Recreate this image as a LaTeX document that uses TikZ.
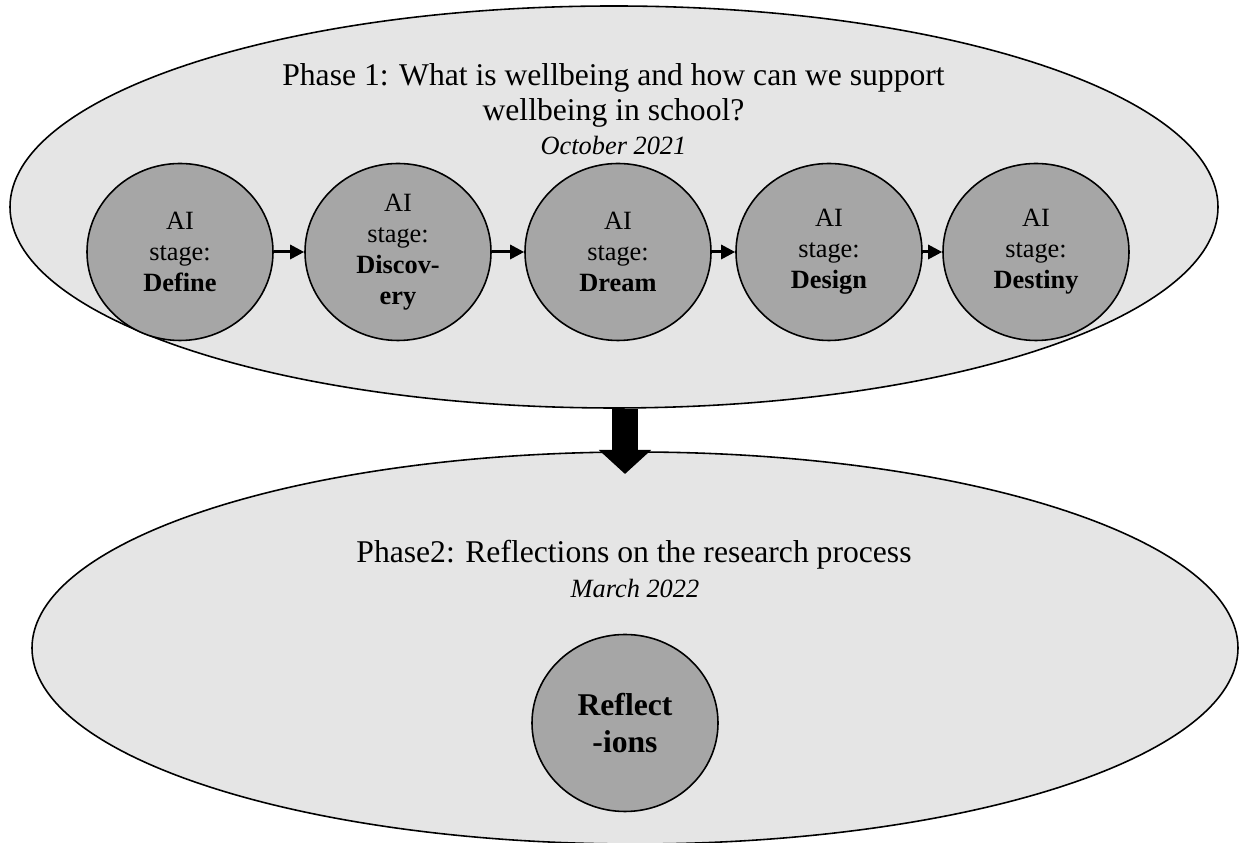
\documentclass[tikz,border=0pt]{standalone}
\usepackage{fontspec}
\setmainfont{Liberation Serif}
\usepackage{tikz}
\usetikzlibrary{shapes,arrows,positioning,arrows.meta}

\tikzset{
    phase/.style={ellipse, draw, line width=0.9pt, fill=black!10, inner sep=0pt},
    aistage/.style={ellipse, draw, line width=0.9pt, fill=black!35, inner sep=0pt,
        minimum width=3.72cm, minimum height=3.54cm, align=center,
        font=\fontsize{15}{17.6}\selectfont},
    stagearrow/.style={line width=1.7pt, -{Triangle[length=8pt,width=8pt]}},
    bigarrow/.style={line width=0.52cm, -{Triangle[length=0.48cm,width=1.02cm]}}
}

\begin{document}
\begin{tikzpicture}
    \useasboundingbox (0,0) rectangle (24.96,16.86);

    % Phase 1
    \node [phase, minimum width=24.16cm, minimum height=8.04cm] (ph1) at (12.28,12.72) {};
    \node [align=center, font=\fontsize{18}{20}\selectfont] (ph1title) at (12.27,14.95)
        {Phase 1: What is wellbeing and how can we support\\wellbeing in school?};
    \node [font=\fontsize{15}{17}\selectfont\itshape] (ph1date) at (12.27,13.96) {October 2021};

    % AI stages
    \foreach \x/\name/\stage in {3.60/define/\textbf{Define},
                                 7.96/discovery/\textbf{Discov-}\\\textbf{ery},
                                 12.36/dream/\textbf{Dream},
                                 16.58/design/\textbf{Design},
                                 20.72/destiny/\textbf{Destiny}} {
        \node [aistage] (\name) at (\x,11.82) {AI\\stage:\\\stage};
    }
    \foreach \a/\b in {define/discovery, discovery/dream, dream/design, design/destiny} {
        \draw [stagearrow] (\a) -- (\b);
    }

    % Phase 2
    \node [phase, minimum width=24.12cm, minimum height=7.84cm] (ph2) at (12.70,3.90) {};
    \node [font=\fontsize{18}{20}\selectfont] (ph2title) at (12.68,5.76)
        {Phase2: Reflections on the research process};
    \node [font=\fontsize{15}{17}\selectfont\itshape] (ph2date) at (12.70,5.10) {March 2022};
    \node [aistage, font=\fontsize{18}{21}\selectfont\bfseries] (refl) at (12.50,2.40) {Reflect\\-ions};

    % Phase 1 -> Phase 2
    \coordinate (tip) at (12.50,7.38);
    \draw [bigarrow] (ph1.south -| tip) -- (tip);
\end{tikzpicture}
\end{document}
